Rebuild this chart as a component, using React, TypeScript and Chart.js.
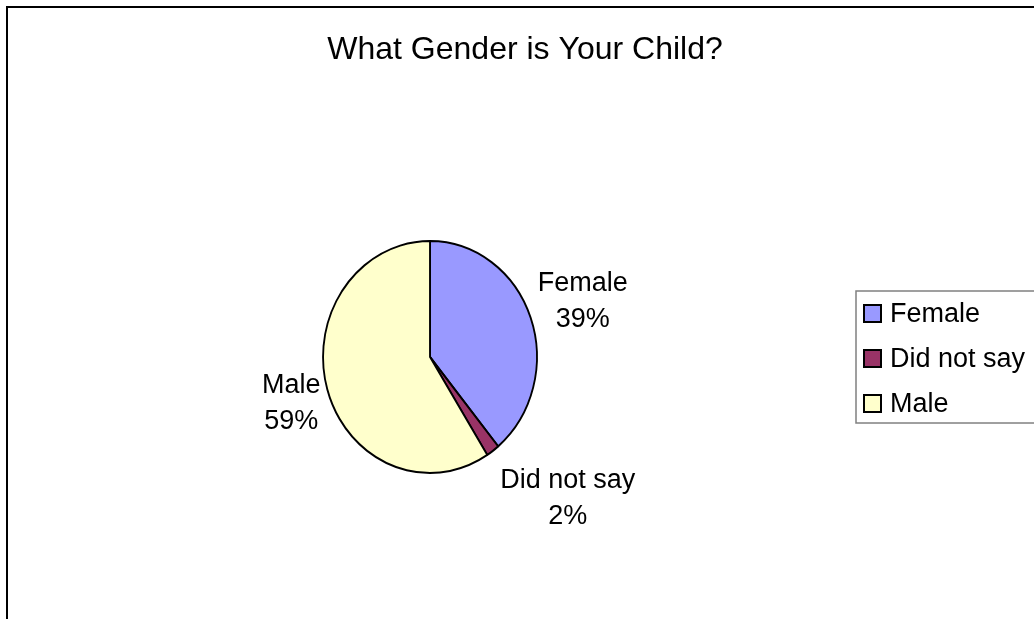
import React, { useEffect, useRef } from "react";
import { Chart, registerables } from "chart.js";

Chart.register(...registerables);

const TITLE = "What Gender is Your Child?";
const CATEGORIES = ["Female", "Did not say", "Male"];
const PERCENTS = [39, 2, 59];
const COLORS = ["#9999FF", "#993366", "#FFFFCC"];

const FONT = "'Liberation Sans', Arial, sans-serif";
// label placement relative to each slice's mid-angle (style only)
const LABEL_DIST = [160, 203, 149];
const LABEL_ANGLE_ADJ = [2.4, -6.7, -5.2];
const PIE_X_SCALE = 0.922; // the reference pie is slightly elliptical

const decorPlugin = {
  id: "decor",
  beforeDatasetsDraw(chart: any) {
    const ctx = chart.ctx as CanvasRenderingContext2D;
    const a = chart.getDatasetMeta(0).data[0];
    ctx.save();
    ctx.translate(a.x, a.y);
    ctx.scale(PIE_X_SCALE, 1);
    ctx.translate(-a.x, -a.y);
  },
  afterDatasetsDraw(chart: any) {
    chart.ctx.restore();
  },
  afterDraw(chart: any) {
    const ctx = chart.ctx as CanvasRenderingContext2D;
    ctx.save();
    // outer chart border
    ctx.strokeStyle = "#000";
    ctx.lineWidth = 2;
    ctx.strokeRect(7, 7, 3000, 3000);

    // title
    ctx.fillStyle = "#000";
    ctx.font = `32px ${FONT}`;
    ctx.textAlign = "center";
    ctx.textBaseline = "alphabetic";
    ctx.fillText(TITLE, 525, 59);

    // data labels
    const meta = chart.getDatasetMeta(0);
    const total = PERCENTS.reduce((a, b) => a + b, 0);
    ctx.font = `27px ${FONT}`;
    meta.data.forEach((arc: any, i: number) => {
      const p = arc.getProps(["x", "y", "startAngle", "endAngle"], true);
      const mid = (p.startAngle + p.endAngle) / 2 + (LABEL_ANGLE_ADJ[i] * Math.PI) / 180;
      const cx = p.x + Math.cos(mid) * LABEL_DIST[i];
      const cy = p.y + Math.sin(mid) * LABEL_DIST[i];
      const pct = Math.round((PERCENTS[i] / total) * 100) + "%";
      ctx.fillText(CATEGORIES[i], cx, cy - 18);
      ctx.fillText(pct, cx, cy + 18);
    });

    // legend
    const lx = 856, ly = 291, lh = 132;
    ctx.strokeStyle = "#808080";
    ctx.lineWidth = 1.5;
    ctx.strokeRect(lx, ly, 400, lh);
    ctx.textAlign = "left";
    ctx.font = `27px ${FONT}`;
    CATEGORIES.forEach((c, i) => {
      const base = 322 + i * 45;
      ctx.fillStyle = COLORS[i];
      ctx.fillRect(864, base - 17, 17, 17);
      ctx.strokeStyle = "#000";
      ctx.lineWidth = 2;
      ctx.strokeRect(864, base - 17, 17, 17);
      ctx.fillStyle = "#000";
      ctx.fillText(c, 890, base);
    });
    ctx.restore();
  },
};

export default function App() {
  const ref = useRef<HTMLCanvasElement | null>(null);
  useEffect(() => {
    document.body.style.overflow = "hidden";
    const chart = new Chart(ref.current!, {
      type: "pie",
      data: {
        labels: CATEGORIES,
        datasets: [
          {
            data: PERCENTS,
            backgroundColor: COLORS,
            borderColor: "#000",
            borderWidth: 2,
          },
        ],
      },
      options: {
        animation: false,
        responsive: false,
        layout: { padding: { left: 313, right: 487, top: 240, bottom: 145 } },
        plugins: {
          legend: { display: false },
          title: { display: false },
          tooltip: { enabled: false },
        },
      },
      plugins: [decorPlugin],
    });
    return () => chart.destroy();
  }, []);
  return (
    <div style={{ position: "fixed", left: 0, top: 0, width: 1034, height: 619, background: "#fff" }}>
      <canvas ref={ref} width={1034} height={619} style={{ display: "block" }} />
    </div>
  );
}
